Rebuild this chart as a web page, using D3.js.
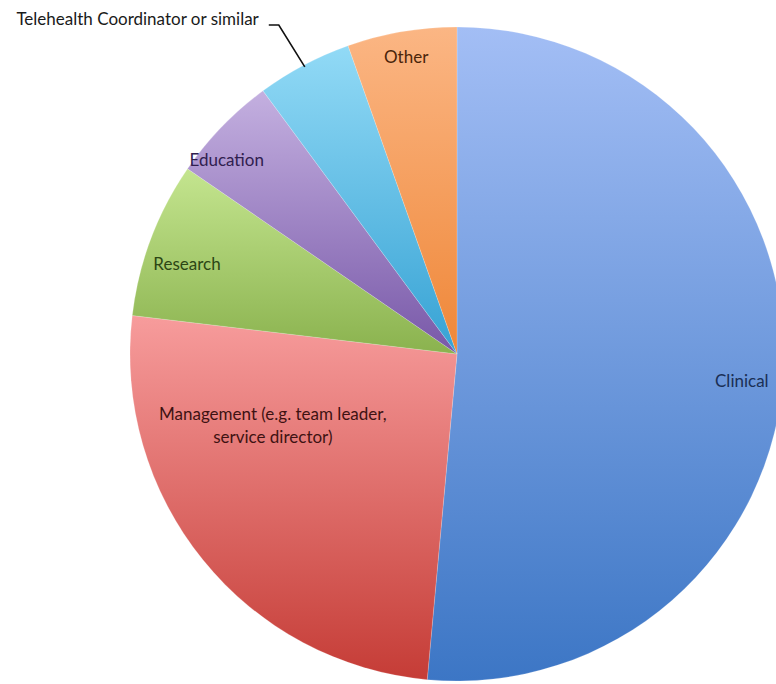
<!DOCTYPE html>
<html>
<head>
<meta charset="utf-8">
<script src="https://cdn.jsdelivr.net/npm/d3@7"></script>
<style>
  body { margin: 0; background: #fff; }
  text { font-family: Lato, "Open Sans", sans-serif; font-size: 17px; }
</style>
</head>
<body>
<div id="chart"></div>
<script>
// Share of respondents by role (percent)
const roles = ['Clinical', 'Management (e.g. team leader, service director)', 'Research', 'Education', 'Telehealth Coordinator or similar', 'Other'];
const shares = [51.4, 25.4, 7.7, 5.3, 4.7, 5.4];
const topColors = ['#a3bef5', '#f79c9c', '#c4e58f', '#c4b0e0', '#92daf6', '#fbb684'];
const bottomColors = ['#3c76c5', '#c53c36', '#8ab24e', '#7858a8', '#36a2d4', '#ef8738'];
const textColors = ['#1a2f55', '#3e1212', '#2c4614', '#30204f', '#1a1a1a', '#4a250a'];

const width = 776, height = 684;
const radius = 327;
const cx = 457, cy = 354;

const svg = d3.select('#chart')
  .append('svg')
  .attr('width', width)
  .attr('height', height);

// top-to-bottom gradient over each slice's own box
const defs = svg.append('defs');
roles.forEach((r, i) => {
  const grad = defs.append('linearGradient')
    .attr('id', 'grad' + i)
    .attr('x1', 0).attr('y1', 0)
    .attr('x2', 0).attr('y2', 1);
  grad.append('stop').attr('offset', '0%').attr('stop-color', topColors[i]);
  grad.append('stop').attr('offset', '100%').attr('stop-color', bottomColors[i]);
});

const pie = d3.pie().sort(null).value(d => d)(shares);
const arc = d3.arc().innerRadius(0).outerRadius(radius);

const g = svg.append('g').attr('transform', `translate(${cx},${cy})`);

g.selectAll('path.slice')
  .data(pie)
  .enter()
  .append('path')
  .attr('class', 'slice')
  .attr('d', arc)
  .attr('fill', (d, i) => `url(#grad${i})`)
  .attr('stroke', 'rgba(255,255,255,0.3)')
  .attr('stroke-width', 0.6);

// label placement: fraction of radius and a small turn off the mid angle (radians)
const labelRadius = [0.875, 0.6, 0.87, 0.92, 0, 0.92];
const labelTurn = [0.05, 0.36, -0.04, -0.07, 0, 0];

function labelPoint(d, i) {
  const a = (d.startAngle + d.endAngle) / 2 + labelTurn[i];
  const r = radius * labelRadius[i];
  return [Math.sin(a) * r, -Math.cos(a) * r];
}

pie.forEach((d, i) => {
  if (i === 4) return; // outside label, drawn below
  const [x, y] = labelPoint(d, i);
  const t = g.append('text')
    .attr('x', x)
    .attr('y', y)
    .attr('text-anchor', 'middle')
    .attr('fill', textColors[i]);
  if (i === 1) {
    t.append('tspan').attr('x', x + 2).attr('dy', '0.25em').text('Management (e.g. team leader,');
    t.append('tspan').attr('x', x + 2).attr('dy', '1.35em').text('service director)');
  } else {
    t.attr('dy', '0.35em').text(roles[i]);
  }
});

// Telehealth: outside label with a leader line to the slice edge
const tele = pie[4];
const teleMid = (tele.startAngle + tele.endAngle) / 2;
const edge = [Math.sin(teleMid) * (radius - 2), -Math.cos(teleMid) * (radius - 2)];
const elbow = [edge[0] - 26, -cy + 25];
g.append('polyline')
  .attr('points', [[elbow[0] - 10, elbow[1]], elbow, edge].map(p => p.join(',')).join(' '))
  .attr('fill', 'none')
  .attr('stroke', '#111')
  .attr('stroke-width', 1.6);
g.append('text')
  .attr('x', elbow[0] - 20)
  .attr('y', elbow[1])
  .attr('dy', '0.02em')
  .attr('text-anchor', 'end')
  .attr('fill', textColors[4])
  .text(roles[4]);
</script>
</body>
</html>
